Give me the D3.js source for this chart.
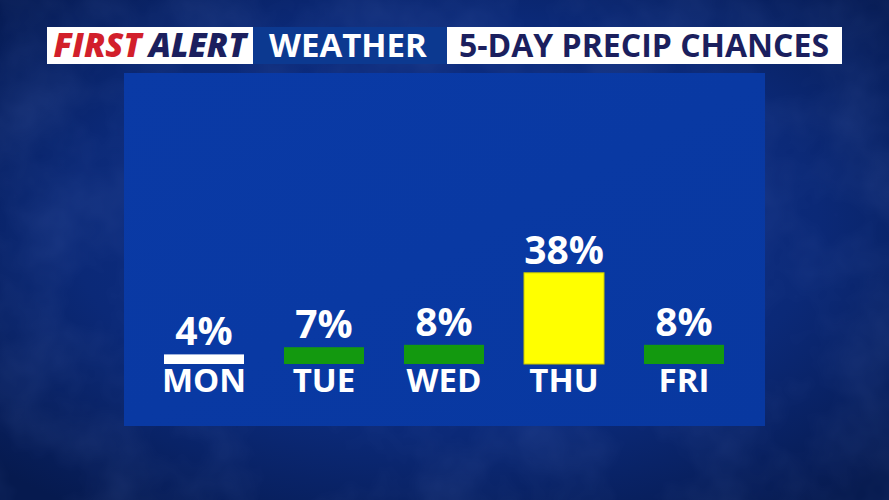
<!DOCTYPE html>
<html><head><meta charset="utf-8">
<script src="https://cdn.jsdelivr.net/npm/d3@7"></script>
<style>html,body{margin:0;padding:0;background:#0b2a74;overflow:hidden}</style>
</head><body>
<svg id="c" width="889" height="500"></svg>
<script>
const days = ["MON","TUE","WED","THU","FRI"];
const chances = [4, 7, 8, 38, 8];
const barColors = ["#ffffff","#13990f","#13990f","#ffff00","#13990f"];
const titleParts = ["FIRST", "ALERT", "WEATHER", "5-DAY PRECIP CHANCES"];

const svg = d3.select("#c");
const defs = svg.append("defs");

const bg = defs.append("radialGradient").attr("id","bg").attr("cx","50%").attr("cy","45%").attr("r","70%");
bg.append("stop").attr("offset","0%").attr("stop-color","#0f3290");
bg.append("stop").attr("offset","60%").attr("stop-color","#0b2977");
bg.append("stop").attr("offset","100%").attr("stop-color","#061a4f");
svg.append("rect").attr("width",889).attr("height",500).attr("fill","url(#bg)");

// cloud texture
const f = defs.append("filter").attr("id","clouds").attr("x",0).attr("y",0).attr("width","100%").attr("height","100%");
f.append("feTurbulence").attr("type","fractalNoise").attr("baseFrequency","0.012").attr("numOctaves",4).attr("seed",3).attr("result","n");
f.append("feColorMatrix").attr("in","n").attr("type","matrix")
  .attr("values","0 0 0 0 0.2  0 0 0 0 0.3  0 0 0 0 0.7  0 0 0 0.6 -0.22");
svg.append("rect").attr("width",889).attr("height",500).attr("filter","url(#clouds)").attr("opacity",0.4);

// panel
const pg = defs.append("linearGradient").attr("id","pg").attr("x1","0").attr("y1","0").attr("x2","1").attr("y2","1");
pg.append("stop").attr("offset","0%").attr("stop-color","#0a3aa6");
pg.append("stop").attr("offset","100%").attr("stop-color","#0838a0");
const panel = {x:124, y:73, w:641, h:353};
svg.append("rect").attr("x",panel.x).attr("y",panel.y).attr("width",panel.w).attr("height",panel.h).attr("fill","url(#pg)");

// title bars
svg.append("rect").attr("x",47).attr("y",27).attr("width",206).attr("height",37).attr("fill","#ffffff");
svg.append("rect").attr("x",253).attr("y",27).attr("width",194).attr("height",37).attr("fill","#0c3990");
svg.append("rect").attr("x",447).attr("y",27).attr("width",395).attr("height",37).attr("fill","#ffffff");

const t1 = svg.append("text").attr("x",150).attr("y",57).attr("text-anchor","middle")
  .style("font-family","'Open Sans', sans-serif").style("font-weight",800).style("font-style","italic").style("font-size","33px");
t1.append("tspan").attr("fill","#d21f2b").text(titleParts[0]);
t1.append("tspan").attr("fill","#1b1f5e").attr("dx",7).text(titleParts[1]);
svg.append("text").attr("x",348).attr("y",57).attr("text-anchor","middle").attr("fill","#ffffff")
  .style("font-family","'Open Sans', sans-serif").style("font-weight",700).style("font-size","33px").text(titleParts[2]);
svg.append("text").attr("x",644).attr("y",57).attr("text-anchor","middle").attr("fill","#1b1f5e")
  .style("font-family","'Open Sans', sans-serif").style("font-weight",700).style("font-size","32px").text(titleParts[3]);

// scales
const x = d3.scaleBand().domain(days).range([144, 744]).paddingInner(1/3).paddingOuter(1/6);
const y = d3.scaleLinear().domain([0, 100]).range([364, 124]);

svg.selectAll("rect.bar").data(days).join("rect").attr("class","bar")
  .attr("x", d => x(d)).attr("width", x.bandwidth())
  .attr("y", (d,i) => y(chances[i])).attr("height", (d,i) => y(0) - y(chances[i]))
  .attr("fill", (d,i) => barColors[i])
  .attr("stroke", (d,i) => i===3 ? "#c8c800" : "none").attr("stroke-width",1);

svg.selectAll("text.val").data(days).join("text").attr("class","val")
  .attr("x", d => x(d) + x.bandwidth()/2).attr("y", (d,i) => y(chances[i]) - 9)
  .attr("text-anchor","middle").attr("fill","#ffffff")
  .style("font-family","'Open Sans', sans-serif").style("font-weight",700).style("font-size","39px")
  .text((d,i) => chances[i] + "%");

const xAxis = d3.axisBottom(x).tickSize(0).tickPadding(0);
const gx = svg.append("g").attr("transform","translate(0,392)").call(xAxis);
gx.select(".domain").remove();
gx.selectAll("text").attr("dy",0).attr("fill","#ffffff")
  .style("font-family","'Open Sans', sans-serif").style("font-weight",700).style("font-size","33px");
</script>
</body></html>
